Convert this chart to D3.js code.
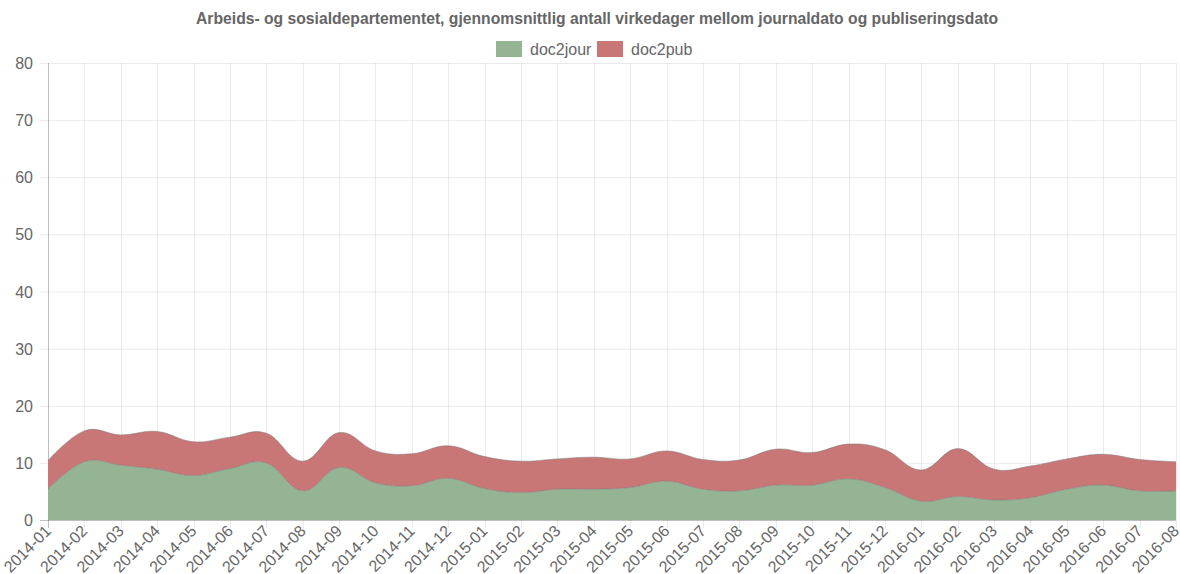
<!DOCTYPE html>
<html><head><meta charset="utf-8">
<script src="https://cdn.jsdelivr.net/npm/d3@7"></script>
<style>body{margin:0;background:#fff}svg{display:block;font-family:"Liberation Sans",Arial,sans-serif}</style>
</head><body>
<svg id="c" width="1180" height="574"></svg>
<script>
const months = ["2014-01","2014-02","2014-03","2014-04","2014-05","2014-06","2014-07","2014-08","2014-09","2014-10","2014-11","2014-12","2015-01","2015-02","2015-03","2015-04","2015-05","2015-06","2015-07","2015-08","2015-09","2015-10","2015-11","2015-12","2016-01","2016-02","2016-03","2016-04","2016-05","2016-06","2016-07","2016-08"];
const doc2jour = [5.4,10.2,9.6,8.9,7.8,9.0,10.0,5.1,9.2,6.5,6.0,7.3,5.5,4.8,5.4,5.4,5.7,6.8,5.4,5.1,6.1,6.1,7.2,5.7,3.3,4.1,3.5,3.9,5.4,6.1,5.1,5.1];
const doc2pub  = [5.0,5.4,5.3,6.6,5.9,5.5,5.2,5.2,6.1,5.6,5.6,5.7,5.6,5.5,5.3,5.6,5.0,5.3,5.2,5.4,6.3,5.7,6.1,6.6,5.45,8.4,5.4,5.55,5.3,5.4,5.5,5.1];
const yTicks = [0,10,20,30,40,50,60,70,80];
const title = "Arbeids- og sosialdepartementet, gjennomsnittlig antall virkedager mellom journaldato og publiseringsdato";
const seriesNames = ["doc2jour","doc2pub"];
const colors = ["#94b494","#c87676"];

const svg = d3.select("#c");
const L = 48, R = 1176, T = 63, B = 520;
const x = d3.scalePoint().domain(months).range([L, R]);
const y = d3.scaleLinear().domain([0, 80]).range([B, T]);

// title
svg.append("text").attr("x", 597).attr("y", 24).attr("text-anchor","middle")
  .attr("font-size", 15.7).attr("font-weight","bold").attr("fill","#666").text(title);

// legend
const leg = [{n:seriesNames[0], bx:496},{n:seriesNames[1], bx:597}];
leg.forEach((d,i)=>{
  svg.append("rect").attr("x", d.bx).attr("y", 41).attr("width", 26).attr("height", 16).attr("fill", colors[i]);
  svg.append("text").attr("x", d.bx+34).attr("y", 55).attr("font-size", 16).attr("fill","#666").text(d.n);
});

// grid
const g = svg.append("g");
g.selectAll(".hg").data(yTicks).join("line")
  .attr("x1", L-8).attr("x2", R).attr("y1", d=>y(d)+0.5).attr("y2", d=>y(d)+0.5)
  .attr("stroke", d=> d===0 ? "rgba(0,0,0,0.25)" : "rgba(0,0,0,0.08)");
g.selectAll(".vg").data(months).join("line")
  .attr("x1", d=>Math.round(x(d))+0.5).attr("x2", d=>Math.round(x(d))+0.5).attr("y1", T).attr("y2", B+8)
  .attr("stroke", (d,i)=> i===0 ? "rgba(0,0,0,0.25)" : "rgba(0,0,0,0.08)");

// y labels
svg.selectAll(".yl").data(yTicks).join("text")
  .attr("x", 33).attr("y", d=>y(d)+6).attr("text-anchor","end")
  .attr("font-size", 16).attr("fill","#666").text(d=>d);

// stacked areas
const data = months.map((m,i)=>({m, a:doc2jour[i], b:doc2pub[i]}));
const curve = d3.curveCardinal.tension(-0.2);
const area1 = d3.area().x(d=>x(d.m)).y0(y(0)).y1(d=>y(d.a)).curve(curve);
const area2 = d3.area().x(d=>x(d.m)).y0(d=>y(d.a)).y1(d=>y(d.a+d.b)).curve(curve);
const line1 = d3.line().x(d=>x(d.m)).y(d=>y(d.a)).curve(curve);
const line2 = d3.line().x(d=>x(d.m)).y(d=>y(d.a+d.b)).curve(curve);
svg.append("path").attr("d", area1(data)).attr("fill", colors[0]);
svg.append("path").attr("d", area2(data)).attr("fill", colors[1]);
svg.append("path").attr("d", line1(data)).attr("fill","none").attr("stroke","rgba(120,120,120,0.5)").attr("stroke-width",1);
svg.append("path").attr("d", line2(data)).attr("fill","none").attr("stroke","rgba(120,120,120,0.5)").attr("stroke-width",1);

// x labels
svg.selectAll(".xl").data(months).join("text")
  .attr("transform", d=>`translate(${x(d)+4},${B+12}) rotate(-45)`)
  .attr("text-anchor","end").attr("font-size", 16).attr("fill","#666").text(d=>d);
</script>
</body></html>
